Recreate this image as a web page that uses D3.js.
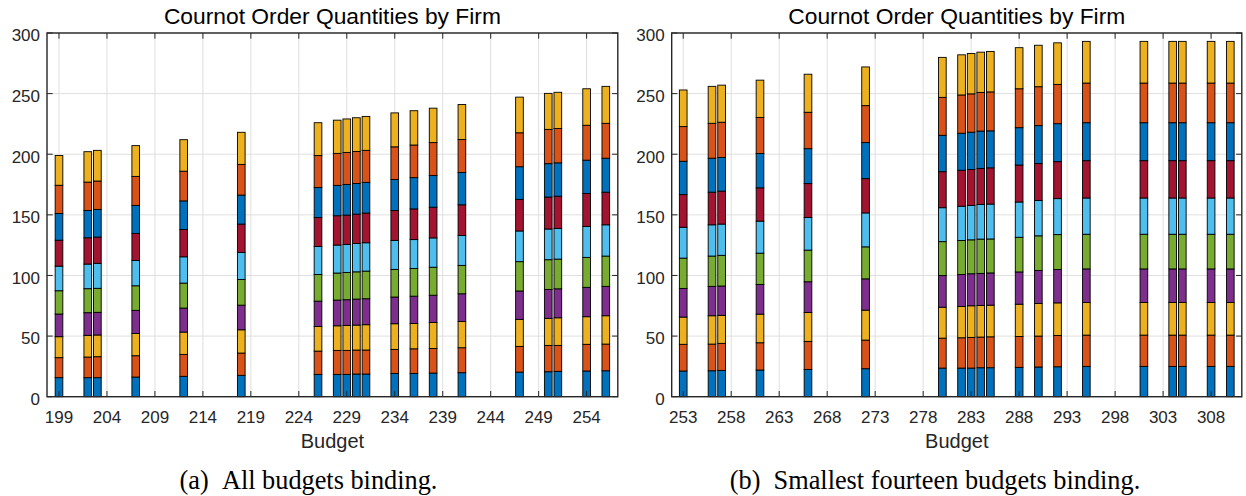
<!DOCTYPE html>
<html>
<head>
<meta charset="utf-8">
<script src="https://cdn.jsdelivr.net/npm/d3@7"></script>
<style>
  html, body { margin: 0; padding: 0; background: #fff; }
  svg { display: block; }
</style>
</head>
<body>
<svg id="chart" width="1246" height="496"></svg>
<script>
// ---------- data ----------
const budgetsA = [199,202,203,207,212,218,226,228,229,230,231,234,236,238,241,247,250,251,254,256];
const qtyA = [
  [15.7,16.5,17.3,18.7,19.2,20.3,21.4,22.0,23.3,24.6],
  [15.7,17.0,17.9,18.7,19.8,20.3,21.7,22.5,23.4,25.1],
  [15.7,17.3,17.9,18.7,19.8,20.6,21.7,22.8,23.4,25.3],
  [16.2,17.6,18.4,19.0,20.3,20.9,22.3,23.1,23.9,25.4],
  [16.8,18.1,18.4,19.8,20.6,21.7,22.5,23.6,24.5,26.0],
  [17.6,18.4,19.2,20.3,21.2,22.3,23.4,23.9,25.3,26.5],
  [18.4,19.2,20.3,20.9,22.0,23.1,23.9,24.7,26.4,27.1],
  [18.4,19.8,20.3,21.2,22.3,23.1,24.2,25.0,26.4,27.4],
  [18.4,19.8,20.6,21.2,22.5,23.1,24.2,25.3,26.4,27.6],
  [18.7,19.8,20.6,21.4,22.5,23.4,24.2,25.3,26.4,27.8],
  [18.7,19.8,20.9,21.4,22.8,23.4,24.5,25.3,26.4,28.0],
  [19.2,19.8,21.2,22.0,22.8,23.9,24.7,25.6,26.9,28.0],
  [19.2,20.3,20.9,22.5,22.8,23.9,25.3,25.8,26.9,28.3],
  [19.5,20.3,21.4,22.5,23.1,24.2,25.3,26.1,27.2,28.4],
  [19.8,20.6,21.7,22.8,23.4,24.7,25.3,26.6,27.2,28.9],
  [20.3,21.2,22.3,23.4,24.2,25.3,26.1,26.9,28.0,29.4],
  [20.6,21.7,22.3,23.9,24.5,25.3,26.4,27.5,28.3,29.7],
  [20.9,21.4,22.8,23.9,24.5,25.3,26.6,27.5,28.3,29.9],
  [21.2,22.0,22.8,24.2,24.7,25.5,27.2,27.5,28.8,30.1],
  [21.4,22.0,23.4,24.2,25.0,25.8,26.9,28.0,28.8,30.5]
];
const budgetsB = [253,256,257,261,266,272,280,282,283,284,285,288,290,292,295,301,304,305,308,310];
const qtyB = [
  [21.2,22.0,22.5,23.6,25.0,25.5,26.9,27.5,28.6,30.2],
  [21.4,22.0,23.4,24.2,25.0,25.8,26.9,28.0,28.8,30.5],
  [21.7,22.3,23.1,24.2,25.3,25.8,27.2,27.7,29.1,30.6],
  [22.0,22.5,23.6,24.5,25.8,26.4,27.5,28.3,29.7,30.8],
  [22.5,23.1,23.9,25.3,26.1,26.9,28.0,28.8,30.0,31.4],
  [23.1,23.6,24.7,25.8,26.4,28.0,28.3,29.7,30.5,31.9],
  [23.6,24.7,25.5,26.1,28.0,28.0,29.7,30.0,31.3,33.0],
  [23.6,25.0,25.8,26.4,28.0,28.3,29.7,30.5,31.6,33.1],
  [23.6,25.3,26.1,26.4,28.0,28.3,29.7,30.8,31.6,33.3],
  [23.9,25.3,26.1,26.4,28.3,28.6,29.7,30.8,31.9,33.2],
  [23.9,25.5,26.1,26.6,28.0,28.8,29.9,30.5,32.1,33.4],
  [24.2,25.5,26.6,26.6,28.6,29.1,30.5,30.8,32.1,33.9],
  [24.5,25.5,26.9,27.2,28.6,29.1,30.5,31.3,32.1,34.2],
  [24.7,25.8,26.9,27.5,28.8,29.7,30.5,31.3,32.4,34.3],
  [25.0,25.8,26.9,27.7,28.6,29.9,30.8,31.3,32.7,34.4],
  [25.0,25.8,26.9,27.7,28.6,29.9,30.8,31.3,32.7,34.4],
  [25.0,25.8,26.9,27.7,28.6,29.9,30.8,31.3,32.7,34.4],
  [25.0,25.8,26.9,27.7,28.6,29.9,30.8,31.3,32.7,34.4],
  [25.0,25.8,26.9,27.7,28.6,29.9,30.8,31.3,32.7,34.4],
  [25.0,25.8,26.9,27.7,28.6,29.9,30.8,31.3,32.7,34.4]
];
const xTicksA = [199,204,209,214,219,224,229,234,239,244,249,254];
const xTicksB = [253,258,263,268,273,278,283,288,293,298,303,308];
const yTicks = [0,50,100,150,200,250,300];
const firmColors = ["#0072BD","#D95319","#EDB120","#7E2F8E","#77AC30","#4DBEEE","#A2142F","#0072BD","#D95319","#EDB120"];
const titleText = "Cournot Order Quantities by Firm";
const xLabelText = "Budget";
const captionA = "(a)\u2002All budgets binding.";
const captionB = "(b)\u2002Smallest fourteen budgets binding.";

// ---------- drawing ----------
const svg = d3.select("#chart");
const axisColor = "#262626";
const sansFont = "'Liberation Sans', Arial, Helvetica, sans-serif";
const serifFont = "'Liberation Serif', 'DejaVu Serif', serif";

function panel(opts) {
  const { left, right, top, bottom, xDomain, budgets, qty, xTicks, caption, captionX } = opts;
  const x = d3.scaleLinear().domain(xDomain).range([left, right]);
  const y = d3.scaleLinear().domain([0, 300]).range([bottom, top]);
  const g = svg.append("g");
  const tickLen = 5.7;

  // grid
  g.append("g").selectAll("line.gx").data(xTicks).join("line")
    .attr("x1", d => x(d)).attr("x2", d => x(d)).attr("y1", top).attr("y2", bottom)
    .attr("stroke", "#dfdfdf").attr("stroke-width", 1);
  g.append("g").selectAll("line.gy").data(yTicks).join("line")
    .attr("x1", left).attr("x2", right).attr("y1", d => y(d)).attr("y2", d => y(d))
    .attr("stroke", "#dfdfdf").attr("stroke-width", 1);

  // stacked bars
  const rows = budgets.map((b, i) => {
    const obj = { budget: b };
    qty[i].forEach((v, k) => obj["f" + k] = v);
    return obj;
  });
  const keys = d3.range(10).map(k => "f" + k);
  const stacked = d3.stack().keys(keys)(rows);
  const bw = 0.8;
  const barG = g.append("g");
  stacked.forEach((layer, k) => {
    barG.append("g").selectAll("rect").data(layer).join("rect")
      .attr("x", d => x(d.data.budget - bw / 2))
      .attr("width", d => x(d.data.budget + bw / 2) - x(d.data.budget - bw / 2))
      .attr("y", d => y(d[1]))
      .attr("height", d => y(d[0]) - y(d[1]))
      .attr("fill", firmColors[k])
      .attr("stroke", "#000").attr("stroke-width", 0.9);
  });

  // ticks (inward, all four sides)
  const tg = g.append("g").attr("stroke", axisColor).attr("stroke-width", 1);
  xTicks.forEach(t => {
    tg.append("line").attr("x1", x(t)).attr("x2", x(t)).attr("y1", bottom).attr("y2", bottom - tickLen);
    tg.append("line").attr("x1", x(t)).attr("x2", x(t)).attr("y1", top).attr("y2", top + tickLen);
  });
  yTicks.forEach(t => {
    tg.append("line").attr("x1", left).attr("x2", left + tickLen).attr("y1", y(t)).attr("y2", y(t));
    tg.append("line").attr("x1", right).attr("x2", right - tickLen).attr("y1", y(t)).attr("y2", y(t));
  });

  // box
  g.append("rect").attr("x", left).attr("y", top).attr("width", right - left).attr("height", bottom - top)
    .attr("fill", "none").attr("stroke", axisColor).attr("stroke-width", 1.4);

  // tick labels
  g.append("g").selectAll("text").data(xTicks).join("text")
    .attr("x", d => x(d)).attr("y", bottom + 25.8)
    .attr("text-anchor", "middle").attr("font-family", sansFont).attr("font-size", 17)
    .attr("fill", axisColor).text(d => d);
  g.append("g").selectAll("text").data(yTicks).join("text")
    .attr("x", left - 7).attr("y", d => y(d) + 8.3)
    .attr("text-anchor", "end").attr("font-family", sansFont).attr("font-size", 17)
    .attr("fill", axisColor).text(d => d);

  // axis label
  g.append("text").attr("x", (left + right) / 2).attr("y", 448)
    .attr("text-anchor", "middle").attr("font-family", sansFont).attr("font-size", 20)
    .attr("fill", axisColor).text(xLabelText);

  // title
  g.append("text").attr("x", (left + right) / 2).attr("y", 24)
    .attr("text-anchor", "middle").attr("font-family", sansFont).attr("font-size", 22.8)
    .attr("fill", "#000").text(titleText);

  // caption
  g.append("text").attr("x", captionX).attr("y", 489)
    .attr("text-anchor", "middle").attr("font-family", serifFont).attr("font-size", 26.3)
    .attr("fill", "#000").text(caption);
}

panel({ left: 47, right: 617.8, top: 33, bottom: 396.7, xDomain: [197.75, 257.25],
        budgets: budgetsA, qty: qtyA, xTicks: xTicksA, caption: captionA, captionX: 308.5 });
panel({ left: 671.7, right: 1241.8, top: 33, bottom: 396.7, xDomain: [251.8, 311.2],
        budgets: budgetsB, qty: qtyB, xTicks: xTicksB, caption: captionB, captionX: 935 });
</script>
</body>
</html>
